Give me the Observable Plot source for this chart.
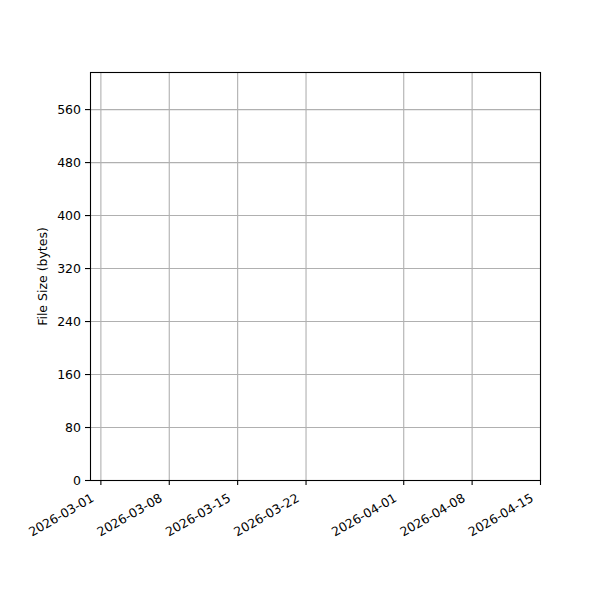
<!DOCTYPE html>
<html>
<head>
<meta charset="utf-8">
<script src="https://cdn.jsdelivr.net/npm/d3@7"></script>
<script src="https://cdn.jsdelivr.net/npm/@observablehq/plot@0.6"></script>
<style>
  html, body { margin: 0; padding: 0; background: #fff; }
  svg { display: block; }
</style>
</head>
<body>
<div id="chart"></div>
<script>
// Series (the reference shows no plotted points)
const dates = [];
const fileSizes = [];

// Axis ticks
const xTickLabels = ["2026-03-01", "2026-03-08", "2026-03-15", "2026-03-22", "2026-04-01", "2026-04-08", "2026-04-15"];
const yTickValues = [0, 80, 160, 240, 320, 400, 480, 560];
const yLabel = "File Size (bytes)";

// Domains
const xDomainStart = "2026-02-27T22:30:00Z";
const xDomainEnd = "2026-04-15T00:00:00Z";
const yDomain = [0, 616];

const xTicks = xTickLabels.map(s => new Date(s + "T00:00:00Z"));
const data = dates.map((d, i) => ({date: new Date(d), size: fileSizes[i]}));

const font = "DejaVu Sans, sans-serif";
const chart = Plot.plot({
  width: 600,
  height: 600,
  marginLeft: 90,
  marginRight: 60,
  marginTop: 72,
  marginBottom: 120,
  style: {fontFamily: font, fontSize: "12.5px", color: "black", background: "white"},
  x: {type: "utc", domain: [new Date(xDomainStart), new Date(xDomainEnd)]},
  y: {domain: yDomain},
  marks: [
    Plot.gridX(xTicks, {stroke: "#b0b0b0", strokeOpacity: 1, strokeWidth: 1.1}),
    Plot.gridY(yTickValues, {stroke: "#b0b0b0", strokeOpacity: 1, strokeWidth: 1.1}),
    Plot.line(data, {x: "date", y: "size", stroke: "#1f77b4", strokeWidth: 2}),
    Plot.axisY(yTickValues, {tickSize: 5, tickPadding: 4.5, strokeWidth: 1.1, fontSize: 12.5, fill: "black", label: null}),
    Plot.axisX(xTicks, {tickSize: 5, strokeWidth: 1.1, tickFormat: () => "", label: null}),
    Plot.text(xTicks, {
      x: d => d, frameAnchor: "bottom",
      text: d => d3.utcFormat("%Y-%m-%d")(d),
      rotate: -30, textAnchor: "end", lineAnchor: "bottom",
      dx: -6, dy: 20, fontSize: 12.5, fill: "black"
    }),
    Plot.text([yLabel], {
      frameAnchor: "left", text: d => d, rotate: -90, textAnchor: "middle",
      dx: -48, fontSize: 12.5, fill: "black"
    }),
    Plot.frame({stroke: "black", strokeWidth: 1.1})
  ]
});
document.getElementById("chart").appendChild(chart);
</script>
</body>
</html>
